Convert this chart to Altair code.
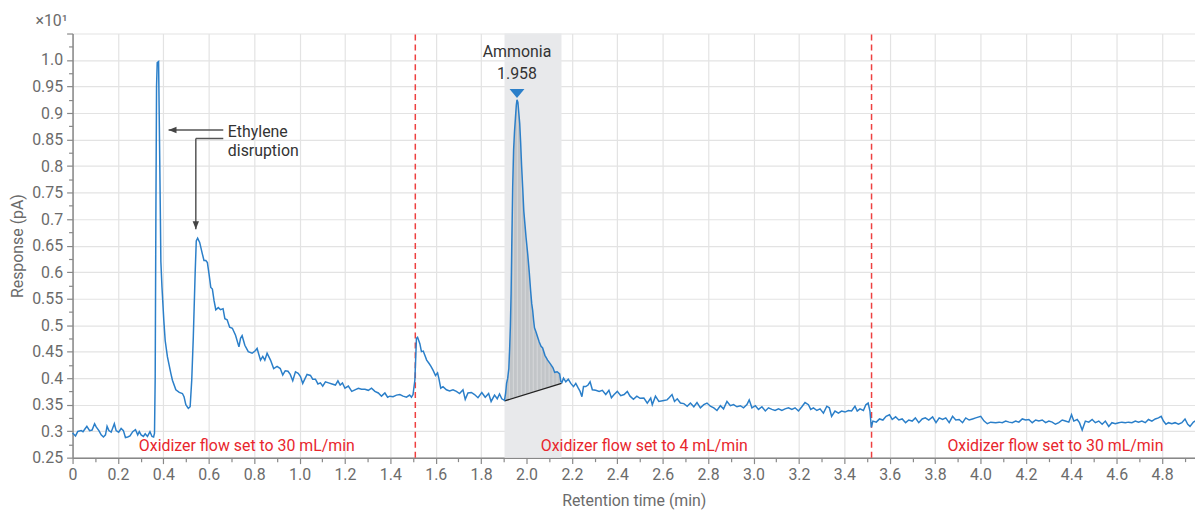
import altair as alt
import pandas as pd
import numpy as np

# ---------------- data ----------------
time_min = [
    0.000, 0.013, 0.023, 0.038, 0.046, 0.056, 0.063, 0.075, 0.086, 0.097, 0.104, 0.116, 0.126, 0.136,
    0.145, 0.152, 0.160, 0.170, 0.184, 0.192, 0.203, 0.214, 0.224, 0.233, 0.243, 0.253, 0.265, 0.277,
    0.287, 0.294, 0.302, 0.312, 0.320, 0.330, 0.341, 0.350, 0.357, 0.361,
    0.364, 0.367, 0.370, 0.373, 0.379, 0.383, 0.387, 0.389, 0.394, 0.402, 0.408, 0.418, 0.433, 0.440,
    0.455, 0.470, 0.484, 0.491, 0.499, 0.510, 0.518, 0.525, 0.532, 0.540, 0.545, 0.551, 0.560, 0.572,
    0.579, 0.587, 0.594, 0.601, 0.609, 0.616, 0.623, 0.631, 0.642, 0.652, 0.663, 0.671, 0.681, 0.692,
    0.704, 0.718, 0.733, 0.740, 0.747, 0.759, 0.774, 0.791, 0.806, 0.813, 0.828, 0.838, 0.847, 0.857,
    0.872, 0.886, 0.901, 0.915, 0.926, 0.937, 0.949, 0.959, 0.970, 0.982, 0.994, 1.004, 1.014, 1.023,
    1.033, 1.048, 1.058, 1.070, 1.081, 1.092, 1.102, 1.114, 1.128, 1.143, 1.158, 1.169, 1.179, 1.189,
    1.200, 1.215, 1.230, 1.244, 1.259, 1.273, 1.288, 1.303, 1.317, 1.332, 1.347, 1.361, 1.376, 1.388,
    1.398, 1.412, 1.427, 1.442, 1.456, 1.471, 1.485, 1.493, 1.500, 1.508, 1.515, 1.520, 1.530, 1.537,
    1.545, 1.552, 1.560, 1.570, 1.579, 1.588, 1.599, 1.608, 1.614, 1.622, 1.632, 1.647, 1.661, 1.676,
    1.691, 1.705, 1.720, 1.730, 1.742, 1.757, 1.771, 1.786, 1.803, 1.818, 1.833, 1.844, 1.859, 1.871,
    1.881, 1.891, 1.903, 1.908, 1.912, 1.917, 1.922, 1.926, 1.929, 1.932, 1.935, 1.939, 1.943, 1.947,
    1.951, 1.955, 1.958, 1.962, 1.966, 1.970, 1.974, 1.978, 1.983, 1.988, 1.993, 1.998, 2.005, 2.012,
    2.018, 2.023, 2.027, 2.031, 2.035, 2.041, 2.047, 2.056, 2.064, 2.071, 2.081, 2.093, 2.105, 2.116,
    2.124, 2.135, 2.146, 2.151, 2.156, 2.163, 2.173, 2.184, 2.195, 2.207, 2.217, 2.228, 2.236, 2.244,
    2.251, 2.261, 2.271, 2.280, 2.290, 2.305, 2.320, 2.334, 2.349, 2.363, 2.374, 2.386, 2.400, 2.415,
    2.430, 2.444, 2.456, 2.471, 2.486, 2.500, 2.517, 2.532, 2.547, 2.554, 2.568, 2.583, 2.605, 2.619,
    2.627, 2.641, 2.652, 2.664, 2.678, 2.693, 2.708, 2.722, 2.737, 2.751, 2.766, 2.781, 2.795, 2.810,
    2.825, 2.839, 2.854, 2.868, 2.883, 2.898, 2.912, 2.927, 2.942, 2.956, 2.971, 2.981, 2.993, 3.008,
    3.022, 3.037, 3.052, 3.066, 3.081, 3.095, 3.110, 3.125, 3.139, 3.154, 3.169, 3.183, 3.198, 3.213,
    3.227, 3.242, 3.252, 3.264, 3.279, 3.293, 3.308, 3.323, 3.334, 3.344, 3.359, 3.374, 3.388, 3.403,
    3.418, 3.432, 3.447, 3.457, 3.469, 3.484, 3.495, 3.505, 3.513, 3.519, 3.526, 3.541, 3.555, 3.570,
    3.584, 3.599, 3.611, 3.626, 3.640, 3.655, 3.670, 3.684, 3.699, 3.713, 3.728, 3.743, 3.757, 3.772,
    3.789, 3.804, 3.818, 3.833, 3.847, 3.862, 3.877, 3.891, 3.906, 3.921, 3.935, 3.950, 3.965, 3.979,
    4.001, 4.016, 4.030, 4.045, 4.067, 4.082, 4.096, 4.111, 4.126, 4.140, 4.155, 4.169, 4.184, 4.199,
    4.213, 4.228, 4.243, 4.257, 4.272, 4.287, 4.301, 4.316, 4.330, 4.345, 4.360, 4.374, 4.389, 4.401,
    4.411, 4.426, 4.436, 4.448, 4.462, 4.477, 4.492, 4.506, 4.521, 4.536, 4.550, 4.565, 4.579, 4.594,
    4.609, 4.623, 4.638, 4.652, 4.667, 4.682, 4.696, 4.711, 4.726, 4.740, 4.755, 4.770, 4.784, 4.796,
    4.806, 4.817, 4.828, 4.843, 4.857, 4.872, 4.887, 4.901, 4.913, 4.923, 4.938, 4.957,
]
response = [
    0.2965, 0.291, 0.2995, 0.301, 0.299, 0.305, 0.309, 0.301, 0.302, 0.314, 0.308, 0.301, 0.293, 0.289,
    0.293, 0.309, 0.301, 0.298, 0.314, 0.301, 0.298, 0.305, 0.301, 0.288, 0.289, 0.291, 0.299, 0.303,
    0.293, 0.299, 0.293, 0.290, 0.295, 0.290, 0.299, 0.290, 0.289, 0.296,
    0.40, 0.70, 0.95, 0.995, 0.997, 0.85, 0.70, 0.62, 0.571, 0.509, 0.471, 0.440, 0.409, 0.396,
    0.378, 0.373, 0.371, 0.365, 0.350, 0.343, 0.346, 0.396, 0.478, 0.597, 0.659, 0.664, 0.656, 0.634,
    0.622, 0.622, 0.618, 0.597, 0.571, 0.568, 0.547, 0.529, 0.533, 0.529, 0.531, 0.512, 0.510, 0.496,
    0.494, 0.481, 0.459, 0.475, 0.480, 0.462, 0.450, 0.447, 0.452, 0.456, 0.434, 0.441, 0.434, 0.447,
    0.434, 0.418, 0.422, 0.418, 0.406, 0.414, 0.413, 0.407, 0.395, 0.412, 0.409, 0.403, 0.390, 0.398,
    0.407, 0.405, 0.398, 0.398, 0.389, 0.391, 0.385, 0.393, 0.391, 0.389, 0.387, 0.395, 0.387, 0.391,
    0.381, 0.385, 0.375, 0.378, 0.381, 0.379, 0.379, 0.377, 0.381, 0.375, 0.372, 0.366, 0.372, 0.364,
    0.366, 0.365, 0.368, 0.369, 0.366, 0.364, 0.368, 0.364, 0.369, 0.396, 0.475, 0.477, 0.465, 0.450,
    0.451, 0.443, 0.434, 0.428, 0.422, 0.415, 0.405, 0.410, 0.399, 0.381, 0.384, 0.378, 0.376, 0.378,
    0.375, 0.371, 0.378, 0.360, 0.372, 0.373, 0.369, 0.363, 0.373, 0.364, 0.371, 0.356, 0.368, 0.361,
    0.370, 0.361, 0.358, 0.372, 0.390, 0.400, 0.418, 0.46, 0.50, 0.56, 0.65, 0.76, 0.83, 0.865,
    0.89, 0.915, 0.925, 0.92, 0.90, 0.88, 0.845, 0.803, 0.76, 0.715, 0.69, 0.665, 0.635, 0.600,
    0.565, 0.540, 0.528, 0.510, 0.495, 0.488, 0.480, 0.468, 0.460, 0.457, 0.443, 0.434, 0.427, 0.420,
    0.411, 0.412, 0.408, 0.394, 0.392, 0.400, 0.393, 0.398, 0.390, 0.384, 0.390, 0.381, 0.375, 0.365,
    0.384, 0.384, 0.387, 0.393, 0.378, 0.377, 0.375, 0.377, 0.369, 0.377, 0.363, 0.369, 0.375, 0.367,
    0.369, 0.375, 0.366, 0.360, 0.366, 0.362, 0.3625, 0.353, 0.3625, 0.350, 0.366, 0.356, 0.358, 0.359,
    0.3625, 0.369, 0.356, 0.361, 0.353, 0.352, 0.347, 0.353, 0.346, 0.354, 0.344, 0.350, 0.353, 0.347,
    0.344, 0.339, 0.348, 0.342, 0.356, 0.348, 0.350, 0.346, 0.348, 0.344, 0.350, 0.359, 0.344, 0.348,
    0.341, 0.346, 0.338, 0.344, 0.341, 0.339, 0.342, 0.339, 0.342, 0.344, 0.341, 0.344, 0.338, 0.346,
    0.354, 0.350, 0.341, 0.344, 0.339, 0.342, 0.334, 0.347, 0.344, 0.328, 0.338, 0.334, 0.338, 0.336,
    0.339, 0.338, 0.347, 0.338, 0.342, 0.339, 0.350, 0.353, 0.338, 0.307, 0.319, 0.317, 0.323, 0.321,
    0.328, 0.331, 0.322, 0.327, 0.321, 0.323, 0.316, 0.321, 0.319, 0.325, 0.316, 0.323, 0.325, 0.321,
    0.327, 0.316, 0.325, 0.322, 0.325, 0.316, 0.328, 0.321, 0.322, 0.316, 0.325, 0.321, 0.323, 0.325,
    0.328, 0.319, 0.314, 0.317, 0.316, 0.317, 0.316, 0.319, 0.317, 0.316, 0.319, 0.317, 0.323, 0.321,
    0.322, 0.316, 0.321, 0.319, 0.321, 0.316, 0.319, 0.317, 0.313, 0.316, 0.321, 0.319, 0.317, 0.331,
    0.319, 0.322, 0.316, 0.302, 0.319, 0.317, 0.322, 0.316, 0.319, 0.313, 0.319, 0.309, 0.316, 0.314,
    0.316, 0.317, 0.316, 0.317, 0.316, 0.319, 0.317, 0.319, 0.316, 0.322, 0.319, 0.323, 0.325, 0.328,
    0.319, 0.313, 0.316, 0.314, 0.316, 0.313, 0.316, 0.323, 0.313, 0.309, 0.317, 0.322,
]

# integration window / baseline of the ammonia peak
peak_start, peak_end = 1.903, 2.154
base_start, base_end = 0.357, 0.390
peak_rt = 1.958
flow_switch_times = [1.51, 3.52]
flow_labels = ["Oxidizer flow set to 30 mL/min", "Oxidizer flow set to 4 mL/min", "Oxidizer flow set to 30 mL/min"]
flow_label_x = [0.768, 2.519, 4.330]
flow_label_y = [0.2726, 0.2726, 0.2726]

# annotation anchors (data units)
ammonia_lines = ["Ammonia", "1.958"]
ammonia_y = [1.0156, 0.974]
marker_y = 0.937
eth_lines = ["Ethylene", "disruption"]
eth_x = 0.684
eth_y = [0.864, 0.829]
arrow1 = dict(x=0.423, x2=0.664, y=0.868)
arrow2_h = dict(x=0.543, x2=0.664, y=0.852)
arrow2_v = dict(x=0.543, y=0.681, y2=0.852)

Y_MIN, Y_MAX = 0.25, 1.05
X_MAX = 4.945

FONT = "Roboto"
BLUE = "#2b7fc9"
RED = "#e8262d"
GRAY_TXT = "#6b6b6b"

df = pd.DataFrame({"t": time_min, "r": response})

x_scale = alt.Scale(domain=[0, X_MAX], nice=False, zero=False)
y_scale = alt.Scale(domain=[Y_MIN, Y_MAX], nice=False, zero=False)

x_major = "abs(datum.value*5 - round(datum.value*5)) < 0.001"
y_major = "abs(datum.value*20 - round(datum.value*20)) < 0.001"

x_axis = alt.Axis(
    values=[round(i * 0.1, 1) for i in range(50)],
    labelExpr=f"{x_major} ? (datum.value == 0 ? '0' : format(datum.value, '.1f')) : ''",
    tickSize={"condition": {"test": x_major, "value": 6}, "value": 4},
    gridOpacity={"condition": {"test": x_major, "value": 1}, "value": 0},
    title="Retention time (min)",
    labelPadding=3, titlePadding=10,
    labelFlush=False, labelOverlap=False,
)
y_axis = alt.Axis(
    values=[round(0.25 + i * 0.025, 3) for i in range(33)],
    labelExpr=f"datum.value > 1.01 ? '' : ({y_major} ? (datum.value == 1 ? '1.0' : format(datum.value, '.2~f')) : '')",
    tickSize={"condition": {"test": y_major, "value": 6}, "value": 4},
    gridOpacity={"condition": {"test": y_major, "value": 1}, "value": 0},
    title="Response (pA)",
    labelPadding=4, titlePadding=6,
    labelFlush=False, labelOverlap=False,
)


def X(f="t"):
    return alt.X(f"{f}:Q", scale=x_scale, axis=x_axis)


def Y(f="r"):
    return alt.Y(f"{f}:Q", scale=y_scale, axis=y_axis)


# background band of integration window
band = alt.Chart(pd.DataFrame({"t": [peak_start], "t2": [peak_end], "r": [Y_MIN], "r2": [Y_MAX]})).mark_rect(
    color="#e8e9eb").encode(x=X(), x2="t2:Q", y=Y(), y2="r2:Q")

# flow switch dashed lines
vlines = alt.Chart(pd.DataFrame({"t": flow_switch_times, "r": [Y_MIN] * 2, "r2": [Y_MAX] * 2})).mark_rule(
    color="#ee4040", strokeDash=[6, 4], strokeWidth=1.5).encode(x=X(), y=Y(), y2="r2:Q")

# peak area between curve and baseline
pk = df[(df.t >= peak_start) & (df.t <= peak_end + 0.003)].copy()
slope = (base_end - base_start) / (peak_end - peak_start)
pk["b"] = base_start + (pk.t - peak_start) * slope
area = alt.Chart(pk).mark_area(color="#c2c5c8", opacity=1).encode(x=X(), y=Y(), y2="b:Q")

hx = np.arange(peak_start + 0.004, peak_end, 0.0175)
hatch = pd.DataFrame({"t": hx, "r": np.interp(hx, df.t, df.r), "b": base_start + (hx - peak_start) * slope})
hatch_rules = alt.Chart(hatch).mark_rule(color="#d6d8da", strokeWidth=1).encode(x=X(), y=Y(), y2="b:Q")

baseline = alt.Chart(pd.DataFrame({"t": [peak_start], "t2": [peak_end], "r": [base_start], "r2": [base_end]})).mark_rule(
    color="#222222", strokeWidth=1.3).encode(x=X(), x2="t2:Q", y=Y(), y2="r2:Q")

line = alt.Chart(df).mark_line(color=BLUE, strokeWidth=1.5, interpolate="linear").encode(x=X(), y=Y())

marker = alt.Chart(pd.DataFrame({"t": [peak_rt], "r": [marker_y]})).mark_point(
    shape="M -1 -0.6 L 1 -0.6 L 0 0.6 Z", size=225, filled=True, color=BLUE, opacity=1).encode(x=X(), y=Y())

amm_text = alt.Chart(pd.DataFrame({"t": [peak_rt] * 2, "r": ammonia_y, "s": ammonia_lines})).mark_text(
    font=FONT, fontSize=16, color="#333333", align="center", baseline="middle").encode(x=X(), y=Y(), text="s:N")

eth_text = alt.Chart(pd.DataFrame({"t": [eth_x] * 2, "r": eth_y, "s": eth_lines})).mark_text(
    font=FONT, fontSize=16, color="#333333", align="left", baseline="middle").encode(x=X(), y=Y(), text="s:N")

arrows_h = alt.Chart(pd.DataFrame({"t": [arrow1["x"], arrow2_h["x"]], "t2": [arrow1["x2"], arrow2_h["x2"]],
                                   "r": [arrow1["y"], arrow2_h["y"]]})).mark_rule(
    color="#555555", strokeWidth=1.5).encode(x=X(), x2="t2:Q", y=Y())
arrow_v = alt.Chart(pd.DataFrame({"t": [arrow2_v["x"]], "r": [arrow2_v["y"]], "r2": [arrow2_v["y2"]]})).mark_rule(
    color="#555555", strokeWidth=1.5).encode(x=X(), y=Y(), y2="r2:Q")
head_left = alt.Chart(pd.DataFrame({"t": [arrow1["x"]], "r": [arrow1["y"]]})).mark_point(
    shape="M 0 0 L 1 -0.4 L 1 0.4 Z", size=256, filled=True, color="#444444", opacity=1).encode(x=X(), y=Y())
head_down = alt.Chart(pd.DataFrame({"t": [arrow2_v["x"]], "r": [arrow2_v["y"]]})).mark_point(
    shape="M 0 0 L -0.4 -1 L 0.4 -1 Z", size=256, filled=True, color="#444444", opacity=1).encode(x=X(), y=Y())

flow_text = alt.Chart(pd.DataFrame({"t": flow_label_x, "r": flow_label_y, "s": flow_labels})).mark_text(
    font=FONT, fontSize=16, color=RED, align="center", baseline="middle").encode(x=X(), y=Y(), text="s:N")

exp_text = alt.Chart(pd.DataFrame({"s": ["×10¹"]})).mark_text(
    font=FONT, fontSize=16, color=GRAY_TXT, align="right", baseline="middle").encode(
    x=alt.value(-5), y=alt.value(-13), text="s:N")

# draw order: band first, line above the peak fill
chart = alt.layer(
    band, vlines, area, hatch_rules, baseline, line, marker, amm_text, eth_text,
    arrows_h, arrow_v, head_left, head_down, flow_text, exp_text
).properties(
    width=1130, height=427,
    autosize=alt.AutoSizeParams(type="none"),
    padding={"left": 65, "top": 24, "right": 0, "bottom": 51},
).configure_view(stroke=None).configure_axis(
    labelFont=FONT, labelFontSize=16, labelColor=GRAY_TXT,
    titleFont=FONT, titleFontSize=16, titleColor=GRAY_TXT, titleFontWeight="normal",
    domainColor="#888888", domainWidth=1.5, tickColor="#888888", tickWidth=1.2,
    gridColor="#e3e3e3", gridWidth=1.2,
)

chart.save("out.html", embed_options={"renderer": "svg", "actions": False})
